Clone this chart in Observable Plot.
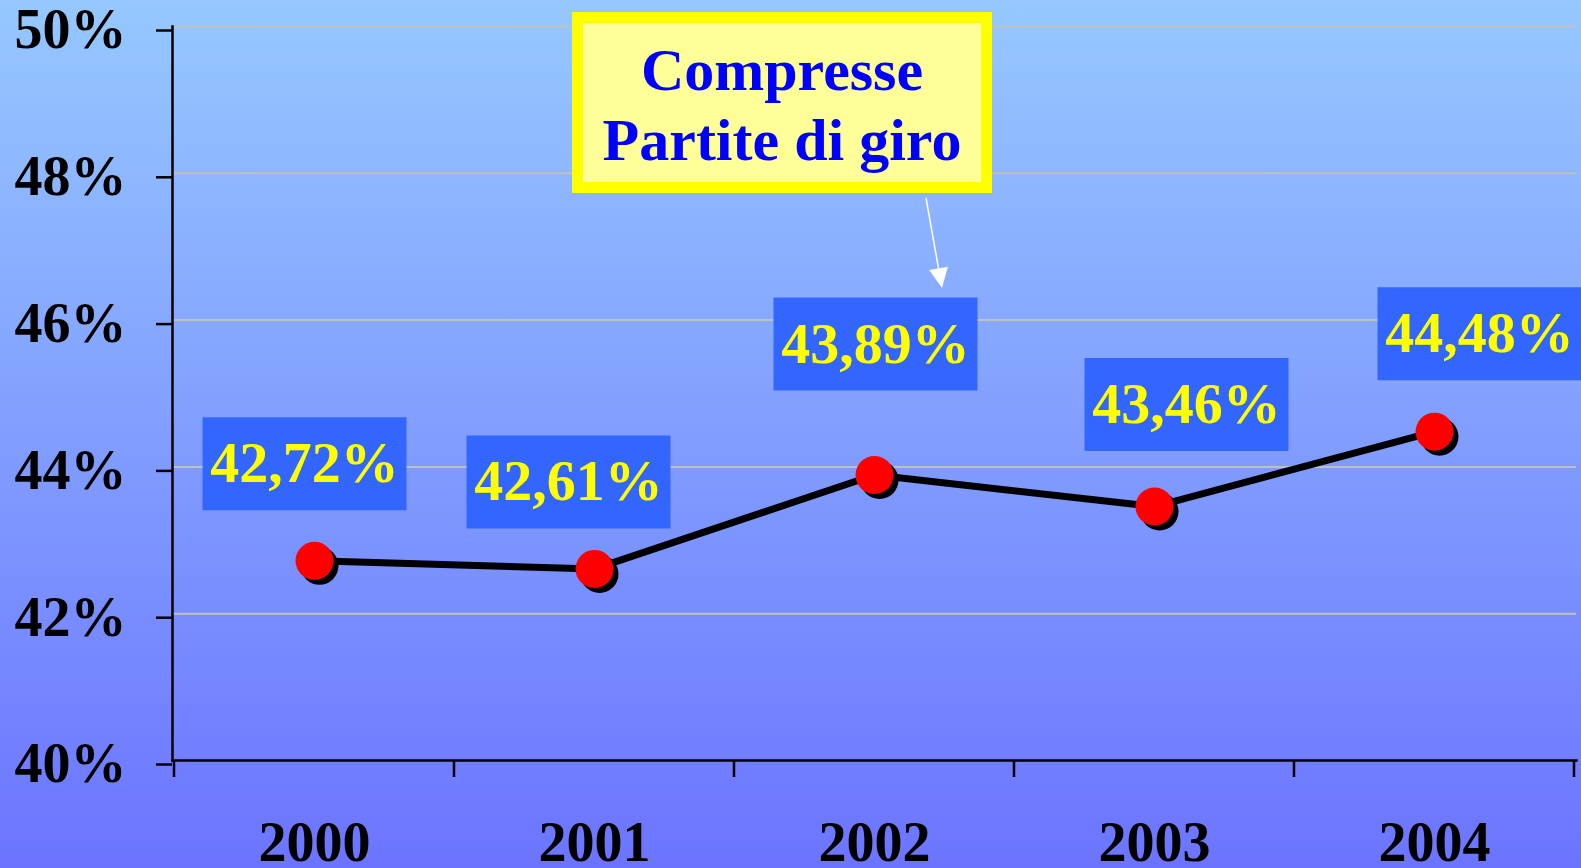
<!DOCTYPE html>
<html><head><meta charset="utf-8">
<script src="https://cdn.jsdelivr.net/npm/d3@7"></script>
<script src="https://cdn.jsdelivr.net/npm/@observablehq/plot@0.6"></script>
<style>
html,body{margin:0;padding:0;}
body{width:1581px;height:868px;overflow:hidden;background:linear-gradient(to bottom, rgb(150,200,255) 0%, rgb(108,116,255) 100%);}
#chart svg{display:block;background:transparent !important;overflow:visible;}
</style></head><body><div id="chart"></div>
<script>
const years = ["2000", "2001", "2002", "2003", "2004"];
const values = [42.72, 42.61, 43.89, 43.46, 44.48];
const labels = ["42,72%", "42,61%", "43,89%", "43,46%", "44,48%"];
const yTicks = [40, 42, 44, 46, 48, 50];
const gridTicks = [42, 44, 46, 48, 50];
const noteLines = ["Compresse", "Partite di giro"];
const noteTarget = "2002";

// label box offsets (pixels) relative to each point — layout only
const labelOffsets = [[-10, -97], [-26, -87], [1, -131], [32, -102], [45, -98]];

const data = years.map((year, i) => ({year, value: values[i], label: labels[i]}));
const W = 1581, H = 868;
const font = '"Liberation Serif","Times New Roman",Times,serif';
const boxW = 204, boxH = 93;
const boxSymbol = {draw(ctx) { ctx.rect(-boxW / 2, -boxH / 2, boxW, boxH); }};

const labelMarks = data.flatMap((d, i) => [
  Plot.dot([d], {x: "year", y: "value", symbol: boxSymbol, r: 10, fill: "#3366FF", dx: labelOffsets[i][0], dy: labelOffsets[i][1]}),
  Plot.text([d], {x: "year", y: "value", text: "label", dx: labelOffsets[i][0], dy: labelOffsets[i][1],
    fill: "#FFFF00", fontSize: 58, fontWeight: "bold", fontFamily: font})
]);

const plot = Plot.plot({
  width: W, height: H,
  marginLeft: 172, marginRight: 5, marginTop: 26, marginBottom: 108,
  style: {background: "transparent", color: "black", fontFamily: font, overflow: "visible"},
  x: {type: "band", domain: years, padding: 0, label: null},
  y: {domain: [40, 50], label: null},
  marks: [
    Plot.gridY(gridTicks, {stroke: "#c0c0c0", strokeOpacity: 1, strokeWidth: 2}),
    Plot.frame({anchor: "left", stroke: "black", strokeWidth: 2.5}),
    Plot.frame({anchor: "bottom", stroke: "black", strokeWidth: 2.5}),
    Plot.axisY({ticks: yTicks, tickFormat: d => d + "%", tickSize: 16, tickPadding: 30, strokeWidth: 2.5,
      fontSize: 56, fontWeight: "bold", fontFamily: font, dy: 4, label: null}),
    Plot.axisX({tickSize: 0, tickPadding: 61, fontSize: 56, fontWeight: "bold", fontFamily: font, label: null}),
    ...labelMarks,
    Plot.dot(data, {x: "year", y: "value", r: 19, fill: "black", dx: 5, dy: 5}),
    Plot.line(data, {x: "year", y: "value", stroke: "black", strokeWidth: 7}),
    Plot.dot(data, {x: "year", y: "value", r: 19, fill: "#FF0000"})
  ]
});
document.getElementById("chart").append(plot);

// band boundary ticks on the x axis
const svg = d3.select(plot);
const xs = plot.scale("x"), ys = plot.scale("y");
const bw = xs.bandwidth;
const bounds = years.map(y => xs.apply(y)).concat([xs.apply(years[years.length - 1]) + bw]);
const yBase = ys.apply(40);
svg.append("g").attr("stroke", "black").attr("stroke-width", 2.5)
  .selectAll("line").data(bounds).join("line")
  .attr("x1", d => d).attr("x2", d => d).attr("y1", yBase).attr("y2", yBase + 17);

// callout box
const cx = xs.apply(noteTarget) + bw / 2 - 92;
const note = svg.append("g");
note.append("rect").attr("x", cx - 204.5).attr("y", 17.5).attr("width", 409).attr("height", 170)
  .attr("fill", "#FFFF99").attr("stroke", "#FFFF00").attr("stroke-width", 11);
note.selectAll("text").data(noteLines).join("text")
  .attr("x", cx).attr("y", (d, i) => 90 + i * 70)
  .attr("text-anchor", "middle").attr("fill", "#0000FF")
  .attr("font-family", font).attr("font-weight", "bold").attr("font-size", 60)
  .text(d => d);
// arrow to the target label
const ax0 = cx + 144, ay0 = 198, ax1 = cx + 160, ay1 = 288;
const len = Math.hypot(ax1 - ax0, ay1 - ay0), ux = (ax1 - ax0) / len, uy = (ay1 - ay0) / len;
const bx = ax1 - 20 * ux, by = ay1 - 20 * uy;
note.append("line").attr("x1", ax0).attr("y1", ay0).attr("x2", bx).attr("y2", by)
  .attr("stroke", "white").attr("stroke-width", 1.5);
note.append("polygon").attr("fill", "white")
  .attr("points", [[ax1, ay1], [bx + 9.5 * uy, by - 9.5 * ux], [bx - 9.5 * uy, by + 9.5 * ux]].map(p => p.join(",")).join(" "));
</script>
</body></html>
